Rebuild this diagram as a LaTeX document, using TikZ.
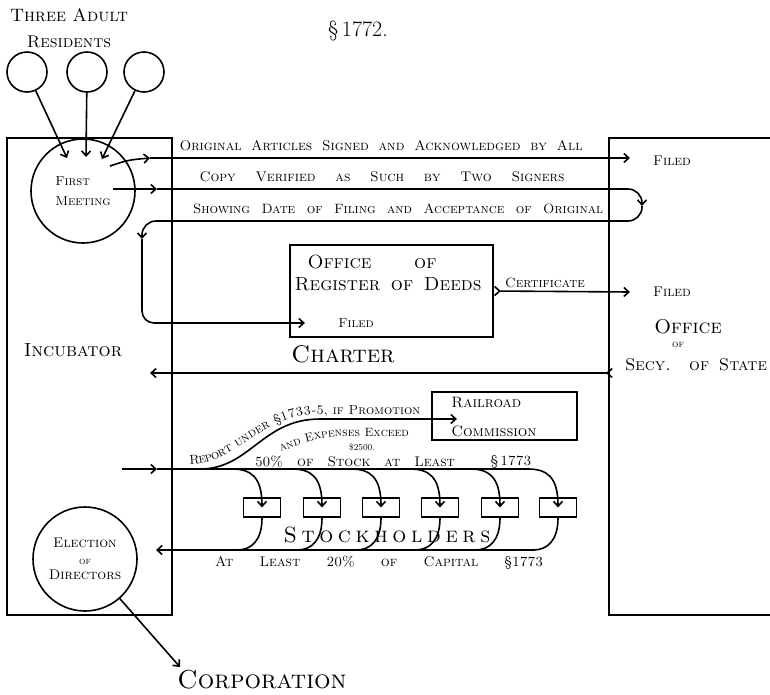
\documentclass[tikz,border=0pt]{standalone}
\usetikzlibrary{arrows.meta,decorations.text}
\newcommand{\wide}[2]{\makebox[#1][s]{#2}}
\newcommand{\hand}[1]{\fontsize{#1}{#1}\selectfont\scshape}

\begin{document}
\begin{tikzpicture}[x=1pt,y=-1pt,line width=1.6pt,>={Straight Barb[length=5pt,width=9pt]},
    txt/.style={inner sep=0pt,font=\hand{14}},
    box/.style={draw,rectangle,inner sep=0pt},
    ring/.style={draw,circle,inner sep=0pt},
    tick/.style={arrows={Straight Barb[reversed,length=5pt,width=9pt]-Straight Barb[length=5pt,width=9pt]}}]

    \useasboundingbox (0,0) rectangle (770,694);

    \node[txt,font=\hand{18}] (three) at (69,15) {\wide{118pt}{Three Adult}};
    \node[txt,font=\hand{17}] (resid) at (69,42) {Residents};
    \node[txt,font=\fontsize{22}{22}\selectfont] (sect) at (358,31) {\S\,1772.};

    \foreach \x/\n in {27/resA,87/resB,144/resC}
        \node[ring,minimum size=40] (\n) at (\x,72) {};

    \node[box,minimum width=165,minimum height=477] (incub) at (89.5,376.5) {};
    \node[box,minimum width=200,minimum height=477] (secy) at (709,376.5) {};
    \node[txt,font=\hand{19}] (incubtxt) at (73,350) {Incubator};

    \node[ring,minimum size=104,align=left,font=\hand{13}] (meet) at (83,191) {First\\[7pt]Meeting};
    \coordinate (inA) at (67,158);
    \coordinate (inB) at (86,157);
    \coordinate (inC) at (102,159);
    \draw[->] (resA) -- (inA);
    \draw[->] (resB) -- (inB);
    \draw[->] (resC) -- (inC);

    \coordinate (oneS) at (110,166);
    \coordinate (oneM) at (150,158);
    \coordinate (oneE) at (630,158);
    \draw[->] (oneS) .. controls (128,160) .. (oneM);
    \draw[->] (oneM) -- (oneE);
    \node[txt] (orig) at (381,146) {\wide{403pt}{Original Articles Signed and Acknowledged by All}};
    \node[txt] (filedA) at (672,161) {Filed};

    \coordinate (twoS) at (113,189);
    \coordinate (twoM) at (157,189);
    \coordinate (turnR) at (642,206);
    \coordinate (turnL) at (142,239);
    \coordinate (regin) at (305,323);
    \draw[->] (twoS) -- (twoM);
    \draw[->,rounded corners=14] (twoM) -- (642,189) -- (turnR);
    \draw[->,rounded corners=14] (turnR) |- (142,221) -- (turnL);
    \draw[->,rounded corners=12] (turnL) |- (regin);
    \node[txt] (copy) at (382,177) {\wide{365pt}{Copy Verified as Such by Two Signers}};
    \node[txt,font=\hand{13.5}] (showing) at (398,209) {\wide{410pt}{Showing Date of Filing and Acceptance of Original}};

    \node[box,minimum width=203,minimum height=92] (reg) at (391.5,291) {};
    \node[txt,font=\hand{19}] (regA) at (372,262) {\wide{129pt}{Office of}};
    \node[txt,font=\hand{19}] (regB) at (388,284) {\wide{187pt}{Register of Deeds}};
    \node[txt,font=\hand{13}] (filedB) at (356,323) {Filed};

    \coordinate (certE) at (630,292);
    \draw[tick] (reg.east) -- (certE);
    \node[txt,font=\hand{13.5}] (cert) at (545,283) {Certificate};
    \node[txt] (filedC) at (672,292) {Filed};
    \node[txt,font=\hand{20}] (off) at (688,327) {Office};
    \node[txt,font=\hand{10}] (offof) at (678,345) {of};
    \node[txt,font=\hand{17}] (secytxt) at (696,365) {\wide{142pt}{Secy. of State}};

    \coordinate (chS) at (613,373);
    \coordinate (chE) at (150,373);
    \draw[tick] (chS) -- (chE);
    \node[txt,font=\hand{24}] (charter) at (343,354) {Charter};

    \node[box,minimum width=145,minimum height=48] (rail) at (504.5,416) {};
    \node[txt,align=left,font=\hand{15}] (railtxt) at (494,417) {Railroad\\[14pt]Commission};

    \coordinate (stA) at (122,469);
    \coordinate (stM) at (157,469);
    \coordinate (stE) at (530,469);
    \coordinate (sS) at (200,469);
    \coordinate (railin) at (457,419);
    \draw[->] (stA) -- (stM);
    \draw (stM) -- (stE);
    \draw[->] (sS) .. controls (250,469) and (262,419) .. (320,419) -- (railin);
    \path[decorate,decoration={text along path,raise=5pt,
        text={|\hand{13}|Report under {\S}1733-5, if Promotion}}]
        (190,469) .. controls (240,469) and (262,419) .. (320,419) -- (445,419);
    \path[decorate,decoration={text along path,
        text={|\hand{12}|and Expenses Exceed}}]
        (281,452) .. controls (303,442) and (322,436) .. (352,436) -- (440,436);
    \node[txt,font=\fontsize{9}{9}\selectfont] (money) at (362,447) {\$2500.};
    \node[txt] (fifty) at (355,462) {\wide{200pt}{50\% of Stock at Least}};
    \node[txt] (secA) at (511,462) {\S\,1773};

    \foreach \c [count=\i] in {262,322,381,440,500,558} {
        \node[box,minimum width=37,minimum height=19] (s\i) at (\c,507.5) {};
        \draw[->] (\c-30,469) .. controls (\c-10,469) and (\c,478) .. (s\i.center);
        \draw (s\i.south) .. controls (\c,540) and (\c-10,550) .. (\c-25,550);
    }

    \coordinate (btS) at (535,550);
    \coordinate (btE) at (156,550);
    \draw[->] (btS) -- (btE);
    \node[txt,font=\hand{22}] (stockh) at (387,535) {\makebox[207pt]{S\hfill t\hfill o\hfill c\hfill k\hfill h\hfill o\hfill l\hfill d\hfill e\hfill r\hfill s}};
    \node[txt] (atleast) at (379,563) {\wide{328pt}{At Least 20\% of Capital \S1773}};

    \node[ring,minimum size=104,align=center,font=\hand{14}] (elect) at (85,559) {Election\\[3pt]{\hand{10}of}\\[1pt]Directors};
    \node[txt,font=\hand{26}] (corp) at (262,680) {Corporation};
    \coordinate (corpin) at (180,667);
    \draw[->] (elect) -- (corpin);

\end{tikzpicture}
\end{document}
